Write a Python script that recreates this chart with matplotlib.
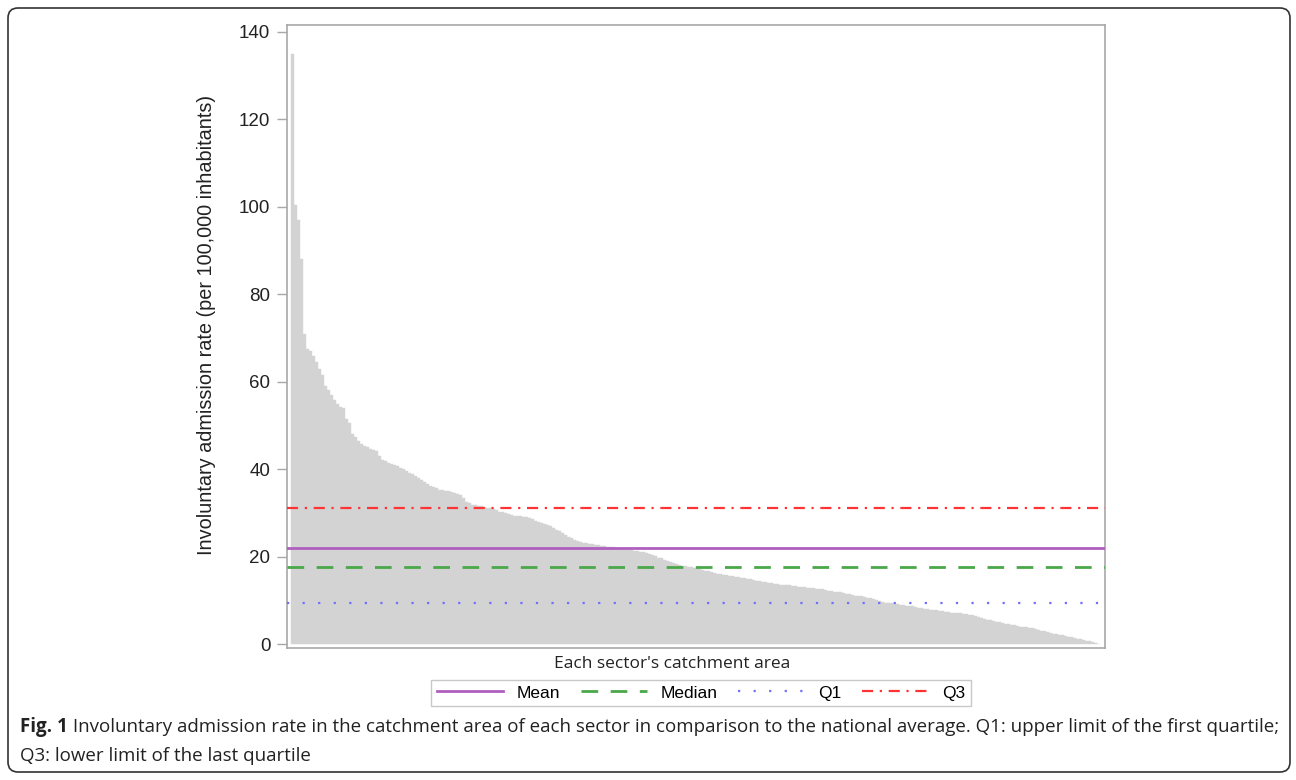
import numpy as np
import matplotlib
matplotlib.use('Agg')
import matplotlib.pyplot as plt
from matplotlib.patches import FancyBboxPatch
from matplotlib.transforms import IdentityTransform

# Admission rate per sector, sorted descending
rates = [
    135.0, 100.5, 97.0, 88.0, 71.0, 67.5, 67.0, 66.0, 64.5, 63.0,
    61.5, 59.0, 58.0, 57.0, 55.8, 55.0, 54.3, 54.0, 51.5, 50.5,
    48.0, 47.3, 46.5, 45.8, 45.2, 45.0, 44.7, 44.5, 44.2, 43.0,
    42.0, 41.8, 41.5, 41.2, 41.0, 40.8, 40.3, 40.0, 39.5, 39.2,
    38.8, 38.5, 38.0, 37.5, 37.0, 36.5, 36.2, 36.0, 35.6, 35.3,
    35.2, 35.0, 34.9, 34.7, 34.6, 34.4, 34.0, 33.3, 32.6, 32.2,
    31.9, 31.7, 31.6, 31.5, 31.4, 31.2, 31.1, 30.9, 30.6, 30.3,
    30.1, 29.9, 29.7, 29.5, 29.4, 29.3, 29.2, 29.1, 29.0, 28.8,
    28.5, 28.2, 28.0, 27.7, 27.4, 27.2, 26.9, 26.6, 26.2, 25.8,
    25.4, 25.0, 24.6, 24.2, 23.8, 23.6, 23.4, 23.2, 23.1, 23.0,
    22.9, 22.7, 22.6, 22.5, 22.4, 22.3, 22.2, 22.1, 22.0, 21.9,
    21.8, 21.7, 21.6, 21.5, 21.4, 21.2, 21.1, 21.0, 20.8, 20.6,
    20.4, 20.1, 19.8, 19.6, 19.3, 19.0, 18.7, 18.5, 18.3, 18.1,
    17.9, 17.8, 17.7, 17.6, 17.5, 17.4, 17.2, 17.0, 16.8, 16.6,
    16.4, 16.3, 16.1, 16.0, 15.8, 15.7, 15.6, 15.5, 15.4, 15.3,
    15.2, 15.0, 14.9, 14.8, 14.6, 14.5, 14.4, 14.2, 14.1, 14.0,
    13.9, 13.8, 13.7, 13.6, 13.6, 13.5, 13.4, 13.3, 13.2, 13.1,
    13.0, 13.0, 12.9, 12.8, 12.8, 12.7, 12.6, 12.5, 12.4, 12.2,
    12.1, 12.0, 11.9, 11.8, 11.7, 11.5, 11.4, 11.2, 11.1, 11.0,
    10.9, 10.8, 10.6, 10.5, 10.3, 10.0, 9.8, 9.6, 9.5, 9.4,
    9.3, 9.2, 9.1, 9.0, 8.9, 8.8, 8.7, 8.6, 8.4, 8.3,
    8.2, 8.1, 8.0, 7.9, 7.8, 7.7, 7.6, 7.5, 7.4, 7.3,
    7.2, 7.2, 7.1, 7.0, 6.9, 6.8, 6.7, 6.6, 6.4, 6.2,
    6.0, 5.8, 5.6, 5.4, 5.3, 5.1, 5.0, 4.8, 4.7, 4.5,
    4.4, 4.3, 4.1, 4.0, 3.9, 3.8, 3.7, 3.6, 3.4, 3.3,
    3.1, 3.0, 2.8, 2.6, 2.4, 2.2, 2.1, 2.0, 1.8, 1.7,
    1.6, 1.4, 1.2, 1.1, 0.9, 0.7, 0.6, 0.4, 0.2, 0.1,
]

# reference lines
mean_val = 22.0
median_val = 17.6
q1_val = 9.4
q3_val = 31.1

yticks = [0, 20, 40, 60, 80, 100, 120, 140]

fig = plt.figure(figsize=(12.96, 7.8), dpi=100)
ax = fig.add_axes([287/1296, 1 - 648/780, (1105 - 287)/1296, (648 - 25)/780])

n = len(rates)
ax.bar(np.arange(n), rates, width=1.0, align='edge', color='#d3d3d3',
       edgecolor='#d3d3d3', linewidth=0.3, zorder=1)

ax.axhline(mean_val, color='#b05fc0', lw=2.0, ls='-', label='Mean', zorder=3)
ax.axhline(median_val, color='#4aa84a', lw=2.0, ls=(0, (6, 4.5)), label='Median', zorder=3)
ax.axhline(q1_val, color='#7070ff', lw=1.6, ls=(0, (1, 6)), label='Q1', zorder=3)
ax.axhline(q3_val, color='#ff3333', lw=1.6, ls=(0, (5, 3, 1, 3)), label='Q3', zorder=3)

ax.set_xlim(-4/3, n + 5/3)
ax.set_ylim(-0.9, 141.6)
ax.set_yticks(yticks)
ax.set_xticks([])

for s in ax.spines.values():
    s.set_color('#a8a8a8')
    s.set_linewidth(1.2)
ax.tick_params(axis='y', direction='out', length=7, color='#a8a8a8', width=1,
               labelsize=13.5, labelcolor='#222222', pad=5)
for lab in ax.get_yticklabels():
    lab.set_family('Liberation Sans')

ax.set_ylabel('Involuntary admission rate (per 100,000 inhabitants)',
              fontsize=14.3, family='Liberation Sans', color='#222222')
ax.yaxis.set_label_coords(-(287 - 216)/818, (648 - 325)/623)
ax.set_xlabel("Each sector's catchment area", fontsize=12.5, family='Open Sans',
              color='#222222', va='top')
ax.xaxis.set_label_coords((672 - 287)/818, -0.013)

leg = ax.legend(loc='center', bbox_to_anchor=(701/1296, 1 - 693/780),
                bbox_transform=fig.transFigure, ncol=4, frameon=True,
                fancybox=False, handlelength=3.8, columnspacing=1.2,
                handletextpad=0.8, borderpad=0.3,
                prop={'family': 'Liberation Sans', 'size': 12.5})
leg.get_frame().set_edgecolor('#bbbbbb')
leg.get_frame().set_linewidth(1.0)

# outer rounded border
border = FancyBboxPatch((8, 8), 1282, 764, boxstyle='round,pad=0,rounding_size=10',
                        transform=IdentityTransform(), facecolor='none',
                        edgecolor='#333333', linewidth=1.2)
fig.patches.append(border)

# caption
cap_size = 13.5
t1 = fig.text(20/1296, 1 - 727/780, 'Fig. 1', fontsize=cap_size, family='Open Sans',
              fontweight='bold', va='center', ha='left', color='#222222')
cap = fig.text(0, 1 - 727/780, ' Involuntary admission rate in the catchment area of each sector in '
               'comparison to the national average. Q1: upper limit of the first quartile;',
               fontsize=cap_size, family='Open Sans', va='center', ha='left', color='#222222')
fig.text(20/1296, 1 - 756/780, 'Q3: lower limit of the last quartile', fontsize=cap_size,
         family='Open Sans', va='center', ha='left', color='#222222')

# put the rest of line 1 right after the bold label
fig.canvas.draw()
r = fig.canvas.get_renderer()
bb = t1.get_window_extent(r)
cap.set_position((bb.x1 / fig.bbox.width, 1 - 727/780))

fig.savefig('out.png', dpi=100)
